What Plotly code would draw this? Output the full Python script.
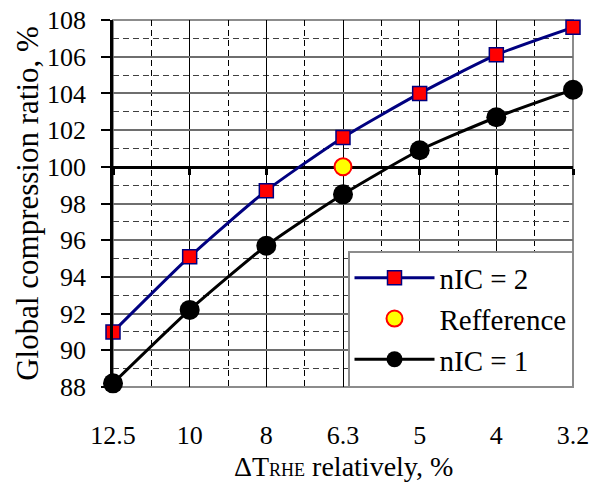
import plotly.graph_objects as go

categories = ["12.5", "10", "8", "6.3", "5", "4", "3.2"]
nic2 = [91.0, 95.1, 98.7, 101.6, 104.0, 106.1, 107.6]
nic1 = [88.2, 92.2, 95.7, 98.5, 100.9, 102.7, 104.2]
ref_cat = "6.3"
ref_val = [100.0]

xi = list(range(len(categories)))
ref_x = [categories.index(ref_cat)]

FONT = "Liberation Serif"

fig = go.Figure()
fig.add_trace(go.Scatter(
    x=xi, y=nic2, name="nIC = 2", mode="lines+markers",
    line=dict(color="#000080", width=3, shape="spline", smoothing=0.6),
    marker=dict(symbol="square", size=14, color="#ff0000",
                line=dict(color="#000080", width=1.5)),
    cliponaxis=False))
fig.add_trace(go.Scatter(
    x=ref_x, y=ref_val, name="Refference", mode="markers", xaxis="x2",
    marker=dict(symbol="circle", size=17, color="#ffff00",
                line=dict(color="#ff0000", width=2)),
    cliponaxis=False))
fig.add_trace(go.Scatter(
    x=xi, y=nic1, name="nIC = 1", mode="lines+markers",
    line=dict(color="#000000", width=3, shape="spline", smoothing=0.6),
    marker=dict(symbol="circle", size=20, color="#000000"),
    cliponaxis=False))

fig.update_layout(
    width=604, height=487,
    margin=dict(l=113, r=31, t=20, b=100, autoexpand=False),
    paper_bgcolor="white", plot_bgcolor="white",
    font=dict(family=FONT, size=26, color="black"),
    showlegend=True,
    legend=dict(x=1, xanchor="right", y=0, yanchor="bottom",
                bgcolor="white", bordercolor="#8c8c8c", borderwidth=1.5,
                font=dict(family=FONT, size=29, color="black"), traceorder="normal",
                itemsizing="trace", itemwidth=80),
    xaxis=dict(
        range=[0, 6], tickmode="array", tickvals=xi, ticktext=categories,
        showgrid=True, gridcolor="#000000", gridwidth=1,
        minor=dict(dtick=0.5, tick0=0, showgrid=True, gridcolor="#000000",
                   gridwidth=1, griddash="6px,4px"),
        zeroline=False, showline=False, ticks="",
        ticklabelstandoff=30, automargin=False,
        tickfont=dict(family=FONT, size=26, color="black"),
    ),
    xaxis2=dict(
        range=[0, 6], overlaying="x", anchor="free", position=0.6,
        tickmode="array", tickvals=xi, showticklabels=False,
        showgrid=False, zeroline=False, automargin=False,
        showline=True, linecolor="black", linewidth=3,
        ticks="outside", ticklen=6, tickwidth=3, tickcolor="black",
        layer="below traces",
    ),
    yaxis=dict(
        range=[88, 108], dtick=2, tick0=88,
        showgrid=True, gridcolor="#6e6e6e", gridwidth=1.5,
        minor=dict(dtick=1, tick0=88, showgrid=True, gridcolor="#404040",
                   gridwidth=1, griddash="6px,4px"),
        zeroline=False, showline=True, linecolor="black", linewidth=2.5,
        ticks="outside", ticklen=9, tickwidth=2, tickcolor="black",
        ticklabelstandoff=10, automargin=False,
        tickfont=dict(family=FONT, size=26, color="black"),
        title=dict(text="Global compression ratio, %",
                   font=dict(family=FONT, size=31, color="black"), standoff=0),
    ),
    annotations=[dict(
        text="ΔT<span style='font-size:18px'>RHE</span> relatively, %",
        xref="paper", yref="paper", x=0.5, y=-0.2153, xanchor="center",
        yanchor="middle", showarrow=False,
        font=dict(family=FONT, size=28, color="black"))],
    shapes=[dict(type="rect", xref="paper", yref="paper", x0=0, x1=1, y0=0, y1=1,
                 line=dict(color="#8c8c8c", width=2), layer="below")],
)

fig.write_html("out.html", post_script="document.body.style.margin='0';",
               config={"displayModeBar": False})
